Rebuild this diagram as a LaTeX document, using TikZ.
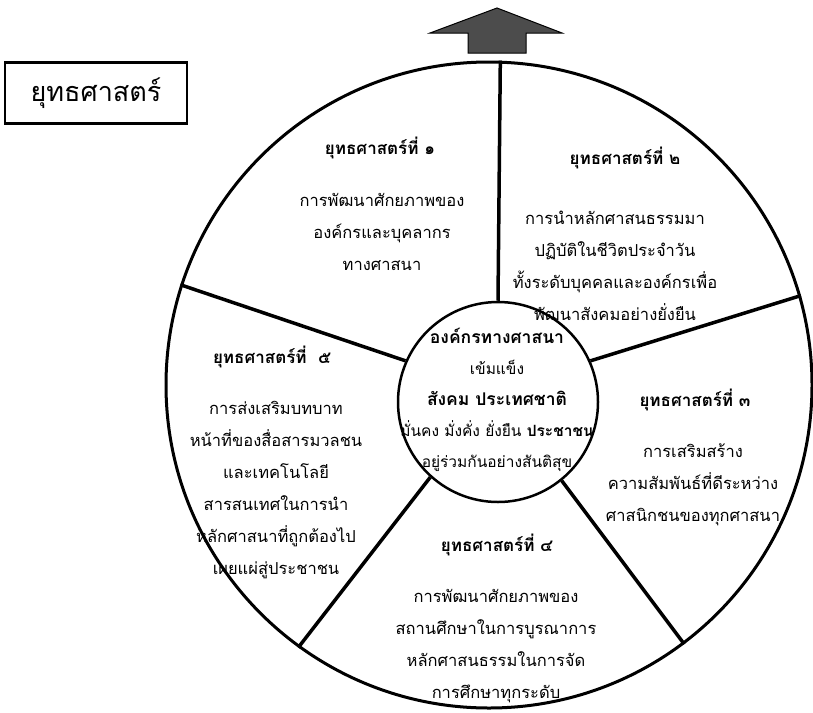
\documentclass[tikz,border=0pt]{standalone}
\usepackage{fontspec}
\setmainfont[Script=Thai]{Loma}
\begin{document}
\begin{tikzpicture}[x=1pt,y=-1pt,
  body/.style={align=center,font=\fontsize{16.5}{32}\selectfont,inner sep=0pt},
  head/.style={font=\bfseries\fontsize{17}{18}\selectfont,inner sep=0pt},
  spoke/.style={line width=3.5pt},
]
\useasboundingbox (0,0) rectangle (813,712);
% title box
\node[draw,line width=2.5pt,minimum width=182pt,minimum height=61pt,inner sep=0pt,
  font=\fontsize{27}{30}\selectfont] (title) at (96,93) {ยุทธศาสตร์};
% arrow
\filldraw[fill=black!70,draw=black,line width=1pt]
  (497,8) -- (562,33) -- (526,33) -- (526,53) -- (468,53) -- (468,33) -- (430,33) -- cycle;

% texts
\node[head] (h1) at (380,148) {ยุทธศาสตร์ที่ ๑};
\node[body] (b1) at (382,232) {การพัฒนาศักยภาพของ\\องค์กรและบุคลากร\\ทางศาสนา};
\node[head] (h2) at (625,158) {ยุทธศาสตร์ที่ ๒};
\node[body] (b2) at (615,266) {การนำหลักศาสนธรรมมา\\ปฏิบัติในชีวิตประจำวัน\\ทั้งระดับบุคคลและองค์กรเพื่อ\\พัฒนาสังคมอย่างยั่งยืน};
\node[head] (h3) at (695,400) {ยุทธศาสตร์ที่ ๓};
\node[body] (b3) at (693,485) {การเสริมสร้าง\\ความสัมพันธ์ที่ดีระหว่าง\\ศาสนิกชนของทุกศาสนา};
\node[head] (h4) at (497,545) {ยุทธศาสตร์ที่ ๔};
\node[body] (b4) at (496,646) {การพัฒนาศักยภาพของ\\สถานศึกษาในการบูรณาการ\\หลักศาสนธรรมในการจัด\\การศึกษาทุกระดับ};
\node[head] (h5) at (272,357) {ยุทธศาสตร์ที่~~๕};
\node[body] (b5) at (276,490) {การส่งเสริมบทบาท\\หน้าที่ของสื่อสารมวลชน\\และเทคโนโลยี\\สารสนเทศในการนำ\\หลักศาสนาที่ถูกต้องไป\\เผยแผ่สู่ประชาชน};
\node[body,font=\fontsize{15.5}{31}\selectfont] (ct) at (497,400)
  {{\bfseries\fontsize{17.5}{31}\selectfont องค์กรทางศาสนา}\\เข้มแข็ง\\{\bfseries\fontsize{17.5}{31}\selectfont สังคม ประเทศชาติ}\\มั่นคง มั่งคั่ง ยั่งยืน \textbf{ประชาชน}\\อยู่ร่วมกันอย่างสันติสุข};

% circles
\node[draw,circle,line width=3pt,minimum size=646pt,inner sep=0pt] (outer) at (489,385) {};
\node[draw,circle,line width=2.5pt,minimum size=200pt,inner sep=0pt] (inner) at (498,402) {};
% spokes
\draw[spoke] (inner.90) -- (outer.88.6);
\draw[spoke] (inner.24.9) -- (outer.16.8);
\draw[spoke] (inner.-51.8) -- (outer.-53.6);
\draw[spoke] (inner.228.3) -- (outer.234.5);
\draw[spoke] (inner.156.4) -- (outer.162.2);
\end{tikzpicture}
\end{document}
